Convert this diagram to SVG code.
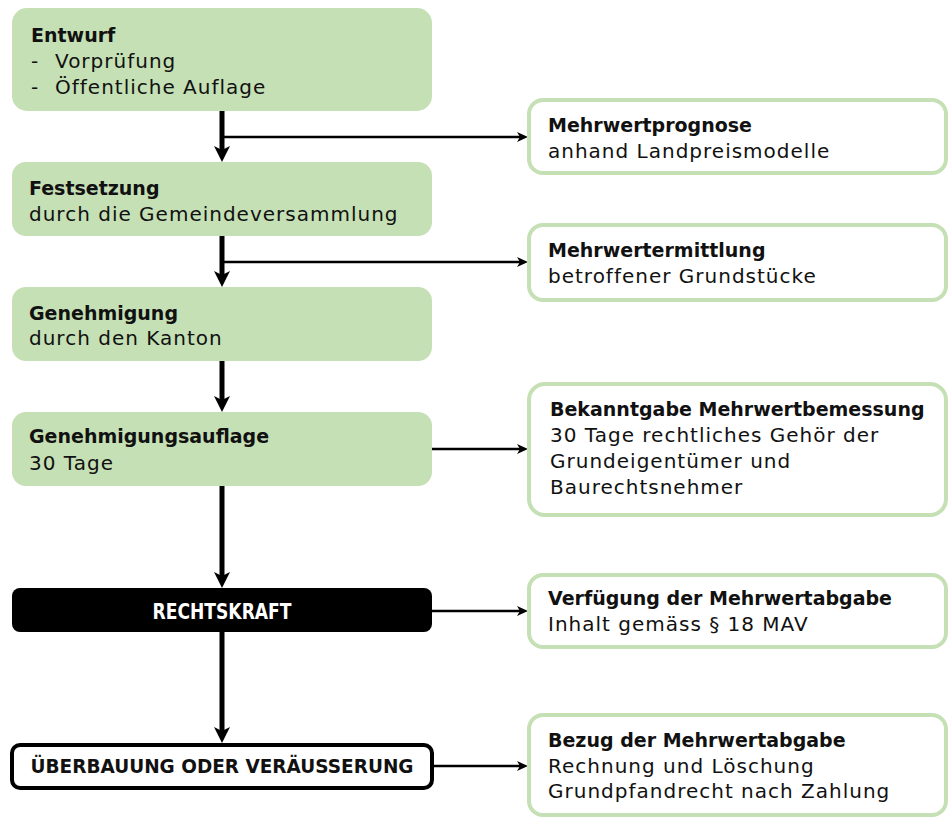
<svg xmlns="http://www.w3.org/2000/svg" width="950" height="818" viewBox="0 0 950 818">
<style>
text{font-family:"DejaVu Sans","Liberation Sans",sans-serif;font-size:20px;fill:#111;letter-spacing:1px}
.b{font-weight:bold;font-size:19px;letter-spacing:0}
.g{fill:#c5e0b4}
.r{fill:#fff;stroke:#c5e0b4;stroke-width:4}
.main{stroke:#000;stroke-width:5;fill:none}
.side{stroke:#000;stroke-width:2.5;fill:none}
.w{fill:#fff;font-weight:bold;letter-spacing:0}
.c{text-anchor:middle}
</style>
<defs>
<marker id="big" markerUnits="userSpaceOnUse" markerWidth="16" markerHeight="16" viewBox="0 0 16 16" refX="6" refY="8" orient="auto">
<path d="M0,0 L16,8 L0,16 L4,8 Z" fill="#000"/>
</marker>
<marker id="small" markerUnits="userSpaceOnUse" markerWidth="11" markerHeight="10" viewBox="0 0 11 10" refX="6" refY="5" orient="auto">
<path d="M0,0 L11,5 L0,10 L3,5 Z" fill="#000"/>
</marker>
</defs>
<g id="connectors">
<line class="main" x1="222" y1="111" x2="222" y2="152" marker-end="url(#big)"/>
<line class="main" x1="222" y1="236" x2="222" y2="277" marker-end="url(#big)"/>
<line class="main" x1="222" y1="361" x2="222" y2="402" marker-end="url(#big)"/>
<line class="main" x1="222" y1="486" x2="222" y2="578" marker-end="url(#big)"/>
<line class="main" x1="222" y1="632" x2="222" y2="733" marker-end="url(#big)"/>
<line class="side" x1="222" y1="137" x2="523" y2="137" marker-end="url(#small)"/>
<line class="side" x1="222" y1="262" x2="523" y2="262" marker-end="url(#small)"/>
<line class="side" x1="432" y1="449" x2="523" y2="449" marker-end="url(#small)"/>
<line class="side" x1="432" y1="611" x2="523" y2="611" marker-end="url(#small)"/>
<line class="side" x1="434" y1="766" x2="523" y2="766" marker-end="url(#small)"/>
</g>
<g id="entwurf">
<rect class="g" x="12" y="8" width="420" height="103" rx="15"/>
<text class="b" x="31" y="42">Entwurf</text>
<text x="31" y="68">-</text><text x="55" y="68">Vorprüfung</text>
<text x="31" y="94">-</text><text x="55" y="94">Öffentliche Auflage</text>
</g>
<g id="festsetzung">
<rect class="g" x="12" y="162" width="420" height="74" rx="14"/>
<text class="b" x="29" y="195">Festsetzung</text>
<text x="29" y="221">durch die Gemeindeversammlung</text>
</g>
<g id="genehmigung">
<rect class="g" x="12" y="287" width="420" height="74" rx="14"/>
<text class="b" x="29" y="320">Genehmigung</text>
<text x="29" y="345">durch den Kanton</text>
</g>
<g id="genehmigungsauflage">
<rect class="g" x="12" y="412" width="420" height="74" rx="14"/>
<text class="b" x="29" y="443">Genehmigungsauflage</text>
<text x="29" y="470">30 Tage</text>
</g>
<g id="rechtskraft">
<rect x="12" y="588" width="420" height="44" rx="8" fill="#000"/>
<text class="w c" x="222" y="619" style="font-size:21px" textLength="139" lengthAdjust="spacingAndGlyphs">RECHTSKRAFT</text>
</g>
<g id="ueberbauung">
<rect x="12" y="745" width="420" height="43" rx="8" fill="#fff" stroke="#000" stroke-width="4"/>
<text class="b c" x="222" y="773" style="font-size:20px" textLength="383" lengthAdjust="spacingAndGlyphs">ÜBERBAUUNG ODER VERÄUSSERUNG</text>
</g>
<g id="mehrwertprognose">
<rect class="r" x="529" y="100" width="417" height="73" rx="14"/>
<text class="b" x="548" y="132">Mehrwertprognose</text>
<text x="548" y="158">anhand Landpreismodelle</text>
</g>
<g id="mehrwertermittlung">
<rect class="r" x="529" y="225" width="417" height="75" rx="14"/>
<text class="b" x="548" y="257">Mehrwertermittlung</text>
<text x="548" y="283">betroffener Grundstücke</text>
</g>
<g id="bekanntgabe">
<rect class="r" x="529" y="384" width="417" height="131" rx="16"/>
<text class="b" x="550" y="416">Bekanntgabe Mehrwertbemessung</text>
<text x="550" y="442">30 Tage rechtliches Gehör der</text>
<text x="550" y="468">Grundeigentümer und</text>
<text x="550" y="494">Baurechtsnehmer</text>
</g>
<g id="verfuegung">
<rect class="r" x="529" y="575" width="417" height="72" rx="14"/>
<text class="b" x="548" y="605">Verfügung der Mehrwertabgabe</text>
<text x="548" y="631">Inhalt gemäss § 18 MAV</text>
</g>
<g id="bezug">
<rect class="r" x="529" y="715" width="417" height="100" rx="14"/>
<text class="b" x="548" y="747">Bezug der Mehrwertabgabe</text>
<text x="548" y="773">Rechnung und Löschung</text>
<text x="548" y="798">Grundpfandrecht nach Zahlung</text>
</g>
</svg>
